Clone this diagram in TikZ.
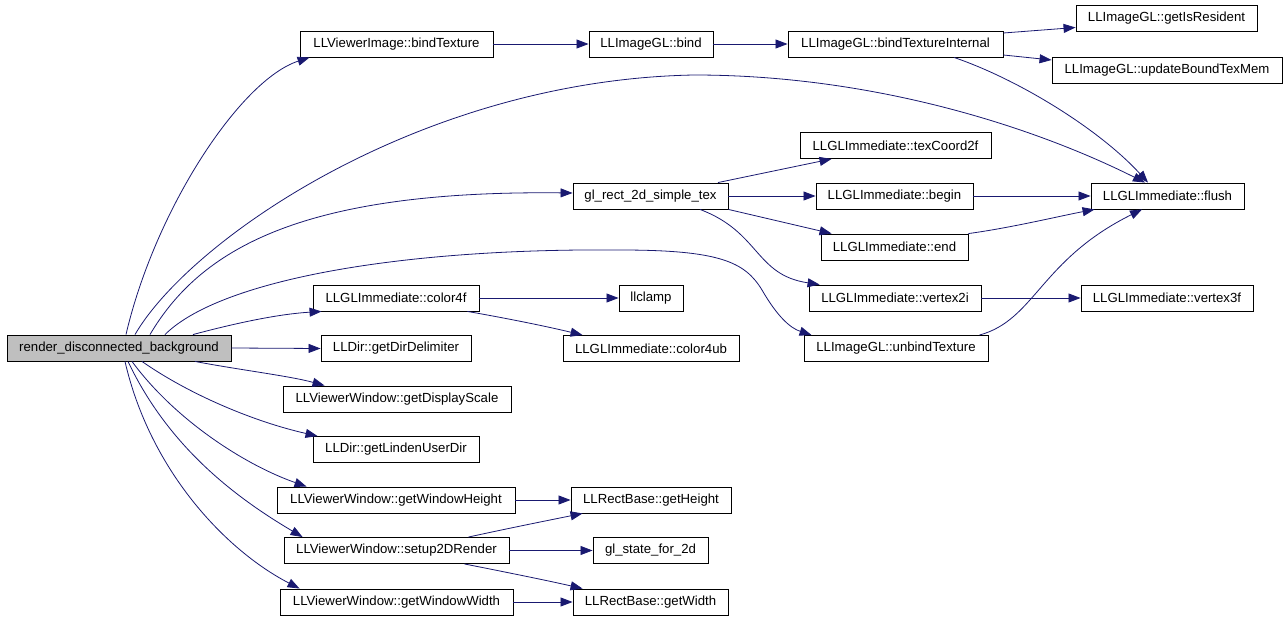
\documentclass[tikz,border=0pt]{standalone}
\usepackage{fontspec}
\setmainfont{Liberation Sans}
\usetikzlibrary{arrows.meta}
\definecolor{edgeblue}{HTML}{191970}
\definecolor{rootgray}{HTML}{BFBFBF}
\tikzset{
  fbox/.style={draw=black, line width=0.9pt, fill=white, rectangle, inner sep=0pt, minimum height=26pt, font=\fontsize{13.2}{15}\selectfont},
  rootbox/.style={fbox, fill=rootgray},
  edge/.style={draw=edgeblue, line width=0.8pt, -{Triangle[length=12pt,width=9pt]}, color=edgeblue}
}
\begin{document}
\begin{tikzpicture}[x=1pt,y=-1pt]
\useasboundingbox (0,0) rectangle (1288,620);
% nodes
\node[rootbox, minimum width=224pt] (rdb) at (119,348) {render\_disconnected\_background};
\node[fbox, minimum width=193pt] (bt) at (396.5,44) {LLViewerImage::bindTexture};
\node[fbox, minimum width=124pt] (bind) at (651,44) {LLImageGL::bind};
\node[fbox, minimum width=215pt] (bti) at (895.5,44) {LLImageGL::bindTextureInternal};
\node[fbox, minimum width=181pt] (gir) at (1166.5,18.5) {LLImageGL::getIsResident};
\node[fbox, minimum width=230pt] (ubtm) at (1167,70) {LLImageGL::updateBoundTexMem};
\node[fbox, minimum width=191pt] (tc) at (895.5,145.5) {LLGLImmediate::texCoord2f};
\node[fbox, minimum width=155pt] (gl) at (650.5,196) {gl\_rect\_2d\_simple\_tex};
\node[fbox, minimum width=157pt] (begin) at (894.5,196) {LLGLImmediate::begin};
\node[fbox, minimum width=153pt] (flush) at (1167.5,196) {LLGLImmediate::flush};
\node[fbox, minimum width=147pt] (endn) at (894.5,247) {LLGLImmediate::end};
\node[fbox, minimum width=172pt] (v2i) at (895,298) {LLGLImmediate::vertex2i};
\node[fbox, minimum width=172pt] (v3f) at (1167,298) {LLGLImmediate::vertex3f};
\node[fbox, minimum width=166pt] (c4f) at (396,298) {LLGLImmediate::color4f};
\node[fbox, minimum width=64pt] (clamp) at (651,298) {llclamp};
\node[fbox, minimum width=176pt] (c4ub) at (651,348.5) {LLGLImmediate::color4ub};
\node[fbox, minimum width=184pt] (unbind) at (896,348.5) {LLImageGL::unbindTexture};
\node[fbox, minimum width=150pt] (dd) at (396,348.5) {LLDir::getDirDelimiter};
\node[fbox, minimum width=228pt] (ds) at (397,399) {LLViewerWindow::getDisplayScale};
\node[fbox, minimum width=166pt] (lud) at (396,449.5) {LLDir::getLindenUserDir};
\node[fbox, minimum width=238pt] (gwh) at (396,500) {LLViewerWindow::getWindowHeight};
\node[fbox, minimum width=160pt] (gh) at (651,500) {LLRectBase::getHeight};
\node[fbox, minimum width=225pt] (s2d) at (396.5,550.5) {LLViewerWindow::setup2DRender};
\node[fbox, minimum width=115pt] (gs) at (650.5,550.5) {gl\_state\_for\_2d};
\node[fbox, minimum width=233pt] (gww) at (396.5,602) {LLViewerWindow::getWindowWidth};
\node[fbox, minimum width=155pt] (gw) at (650.5,602) {LLRectBase::getWidth};
% edges from root
\draw[edge] ([xshift=7pt]rdb.north) .. controls (155,210) and (240,80) .. ([xshift=10pt]bt.south west);
\draw[edge] ([xshift=16pt]rdb.north) .. controls (190,240) and (420,80) .. (694,75) .. controls (870,75) and (1030,125) .. ([xshift=-22.5pt]flush.north);
\draw[edge] ([xshift=31pt]rdb.north) .. controls (200,250) and (300,190) .. ([yshift=3pt]gl.west);
\draw[edge] ([xshift=46pt]rdb.north) .. controls (220,280) and (400,248) .. (620,250) .. controls (720,250) and (745,262) .. (762,290) .. controls (777,316) and (790,328) .. ([xshift=8pt]unbind.north west);
\draw[edge] ([xshift=74pt]rdb.north) .. controls (240,322) and (280,314) .. ([xshift=9pt]c4f.south west);
\draw[edge] (rdb.east) -- (dd.west);
\draw[edge] ([xshift=76pt]rdb.south) .. controls (240,370) and (290,376) .. ([xshift=42pt]ds.north west);
\draw[edge] ([xshift=23pt]rdb.south) .. controls (190,395) and (255,422) .. ([xshift=5pt]lud.north west);
\draw[edge] ([xshift=13pt]rdb.south) .. controls (175,420) and (245,465) .. ([xshift=30pt]gwh.north west);
\draw[edge] ([xshift=9pt]rdb.south) .. controls (170,450) and (240,500) .. ([xshift=19pt]s2d.north west);
\draw[edge] ([xshift=6pt]rdb.south) .. controls (150,470) and (225,550) .. ([xshift=20pt]gww.north west);
% other edges
\draw[edge] (bt.east) -- (bind.west);
\draw[edge] (bind.east) -- (bti.west);
\draw[edge] ([yshift=11pt]bti.east) -- ([yshift=-9pt]gir.west);
\draw[edge] ([yshift=-11pt]bti.east) -- ([yshift=10pt]ubtm.west);
\draw[edge] ([xshift=58.5pt]bti.south) .. controls (1020,80) and (1100,130) .. ([xshift=-19.5pt]flush.north);
\draw[edge] ([xshift=67.5pt]gl.north) -- ([xshift=32pt]tc.south west);
\draw[edge] (gl.east) -- (begin.west);
\draw[edge] (gl.south east) -- ([xshift=11pt]endn.north west);
\draw[edge] ([xshift=49.5pt]gl.south) .. controls (760,232) and (755,275) .. ([xshift=11pt]v2i.north west);
\draw[edge] (begin.east) -- (flush.west);
\draw[edge] (endn.north east) .. controls (1010,228) and (1060,216) .. ([xshift=4pt]flush.south west);
\draw[edge] ([xshift=-9pt]unbind.north east) .. controls (1035,320) and (1040,260) .. ([xshift=-25.5pt]flush.south);
\draw[edge] (v2i.east) -- (v3f.west);
\draw[edge] (c4f.east) -- (clamp.west);
\draw[edge] ([xshift=-12pt]c4f.south east) .. controls (505,318) and (545,326) .. ([xshift=20pt]c4ub.north west);
\draw[edge] (gwh.east) -- (gh.west);
\draw[edge] ([xshift=-41pt]s2d.north east) .. controls (510,528) and (550,520) .. ([xshift=12pt]gh.south west);
\draw[edge] (s2d.east) -- (gs.west);
\draw[edge] ([xshift=-45pt]s2d.south east) .. controls (505,572) and (545,580) .. ([xshift=10pt]gw.north west);
\draw[edge] (gww.east) -- (gw.west);
\end{tikzpicture}
\end{document}
